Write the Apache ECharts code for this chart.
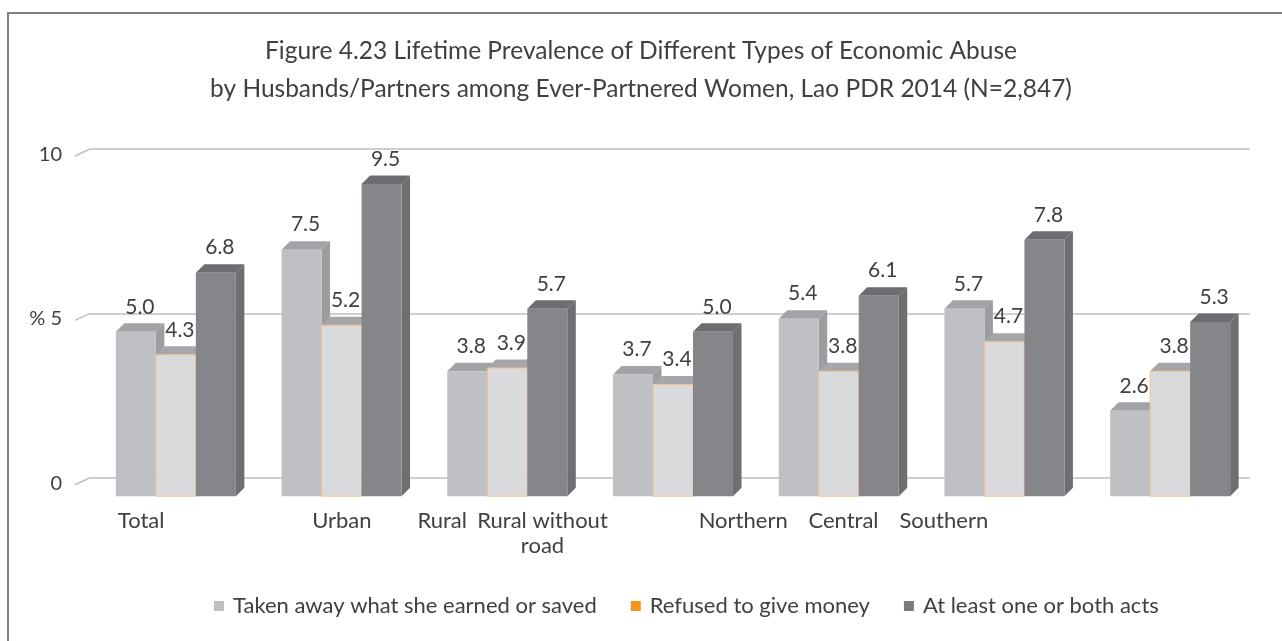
<!DOCTYPE html>
<html>
<head>
<meta charset="utf-8">
<script src="https://cdn.jsdelivr.net/npm/echarts@6/dist/echarts.min.js"></script>
<style>
  html, body { margin: 0; padding: 0; background: #fff; }
  #main { width: 1282px; height: 641px; }
</style>
</head>
<body>
<div id="main"></div>
<script>
var groups = ['Total', 'Urban', 'Rural', 'Rural without road', 'Northern', 'Central', 'Southern'];
// category labels as printed under the axis (the original keeps empty slots)
var axisLabels = ['Total', '', 'Urban', 'Rural', 'Rural without\nroad', '', 'Northern', 'Central', 'Southern'];
var seriesNames = ['Taken away what she earned or saved', 'Refused to give money', 'At least one or both acts'];
var takenAway = [5.0, 7.5, 3.8, 3.7, 5.4, 5.7, 2.6];
var refused = [4.3, 5.2, 3.9, 3.4, 3.8, 4.7, 3.8];
var atLeastOne = [6.8, 9.5, 5.7, 5.0, 6.1, 7.8, 5.3];
var yTicks = [0, 5, 10];

var FONT = 'Lato, "Open Sans", sans-serif';
var TEXT = '#404040';
var BAR_RATIO = 0.2414; // width of one bar relative to the category band
var DEPTH = 8.5;        // 3d depth of top / side faces
var SHIFT_X = 3;        // front faces sit in front of the back wall
var SHIFT_Y = 18.5;

var faces = [
    { front: '#bfc0c3', top: '#a2a3a6', side: '#9c9da0', stroke: null, legend: '#bfc0c3' },
    { front: '#d9dadc', top: '#a6a7aa', side: '#a0a1a4', stroke: '#f3c08c', legend: '#f7941d' },
    { front: '#85868a', top: '#6c6d70', side: '#6e6f73', stroke: null, legend: '#7a7b7f' }
];

var myChart = echarts.init(document.getElementById('main'));

var makeRender = function(si) {
    var f = faces[si];
    return function(params, api) {
        var cat = api.value(0);
        var val = api.value(1);
        var base = api.coord([cat, 0]);
        var top = api.coord([cat, val]);
        var w = api.size([1, 0])[0] * BAR_RATIO;
        var x0 = base[0] - 1.5 * w + si * w + SHIFT_X;
        var x1 = x0 + w;
        var yb = base[1] + SHIFT_Y;
        var yt = top[1] + SHIFT_Y;
        var d = DEPTH;
        var strokeStyle = f.stroke ? { stroke: f.stroke, lineWidth: 1 } : {};
        return {
            type: 'group',
            children: [{
                type: 'polygon',
                shape: { points: [[x1, yt], [x1 + d, yt - d], [x1 + d, yb - d], [x1, yb]] },
                style: { fill: f.side }
            }, {
                type: 'polygon',
                shape: { points: [[x0, yt], [x0 + d, yt - d], [x1 + d, yt - d], [x1, yt]] },
                style: { fill: f.top }
            }, {
                type: 'rect',
                shape: { x: x0, y: yt, width: w, height: yb - yt },
                style: Object.assign({ fill: f.front }, strokeStyle)
            }, {
                type: 'text',
                z2: 100,
                style: {
                    x: x0 + w / 2 + 4,
                    y: yt - 25,
                    text: val.toFixed(1),
                    fill: TEXT,
                    font: '21px ' + FONT,
                    align: 'center',
                    verticalAlign: 'middle'
                }
            }]
        };
    };
};

var seriesData = [takenAway, refused, atLeastOne];
var series = seriesData.map(function(vals, si) {
    return {
        name: seriesNames[si],
        type: 'custom',
        xAxisIndex: 0,
        yAxisIndex: 0,
        itemStyle: { color: faces[si].legend },
        renderItem: makeRender(si),
        data: vals.map(function(v, i) { return [i, v]; })
    };
});

// short slanted gridline pieces on the side wall
series.push({
    type: 'custom',
    xAxisIndex: 0,
    yAxisIndex: 0,
    silent: true,
    renderItem: function(params, api) {
        var p = api.coord([0, api.value(0)]);
        var x = params.coordSys.x;
        return {
            type: 'line',
            shape: { x1: x - 15, y1: p[1] + 7, x2: x, y2: p[1] },
            style: { stroke: '#bfbfbf', lineWidth: 1.5 }
        };
    },
    data: yTicks.map(function(t) { return [t]; })
});

var option = {
    backgroundColor: '#fff',
    animation: false,
    title: {
        text: 'Figure 4.23 Lifetime Prevalence of Different Types of Economic Abuse\nby Husbands/Partners among Ever-Partnered Women, Lao PDR 2014 (N=2,847)',
        left: 'center',
        top: 27,
        padding: [5, 0, 5, 14],
        textStyle: { fontFamily: FONT, fontSize: 24.5, fontWeight: 'normal', color: TEXT, lineHeight: 38 }
    },
    legend: {
        data: seriesNames,
        top: 590,
        left: 209,
        icon: 'rect',
        itemWidth: 10,
        itemHeight: 10,
        itemGap: 34,
        textStyle: { fontFamily: FONT, fontSize: 22, color: TEXT, padding: [0, 0, 0, 4] }
    },
    graphic: [{
        type: 'rect',
        shape: { x: 8, y: 13, width: 1300, height: 660 },
        style: { fill: 'none', stroke: '#808080', lineWidth: 2 },
        silent: true
    }],
    grid: [
        { left: 90, right: 32, top: 149, bottom: 163.3 },
        { left: 91, right: 288, top: 400, bottom: 141 }
    ],
    xAxis: [{
        type: 'category',
        gridIndex: 0,
        data: groups,
        show: false
    }, {
        type: 'category',
        gridIndex: 1,
        data: axisLabels,
        axisLine: { show: false },
        axisTick: { show: false },
        axisLabel: { interval: 0, margin: 8, fontFamily: FONT, fontSize: 22, color: TEXT, lineHeight: 25 }
    }],
    yAxis: [{
        type: 'value',
        gridIndex: 0,
        min: 0,
        max: 10,
        interval: 5,
        axisLine: { show: false },
        axisTick: { show: false },
        splitLine: { lineStyle: { color: '#bfbfbf', width: 1.5 } },
        axisLabel: {
            margin: 28,
            verticalAlign: 'top',
            lineHeight: 11,
            fontFamily: FONT,
            fontSize: 20,
            color: TEXT,
            formatter: function(v) { return v === 5 ? '% 5' : String(v); }
        }
    }, {
        type: 'value',
        gridIndex: 1,
        show: false
    }],
    series: series
};

myChart.setOption(option);
</script>
</body>
</html>
